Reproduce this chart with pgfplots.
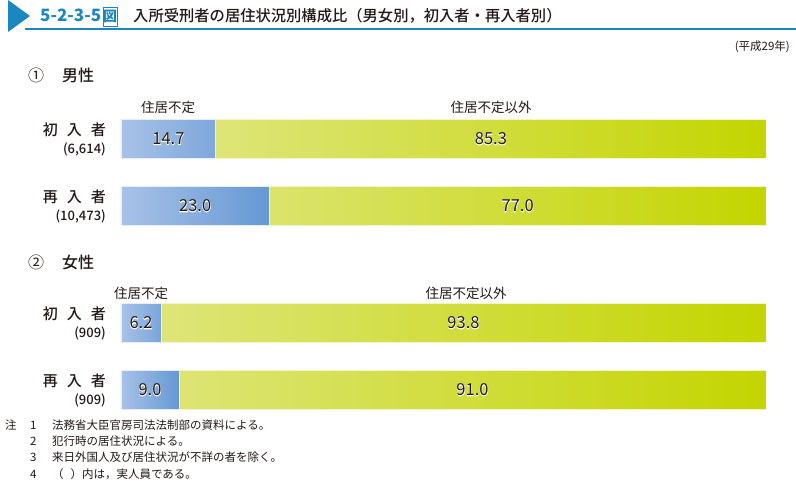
\documentclass[border=0pt]{standalone}
\usepackage{pgfplots}
\pgfplotsset{compat=1.18}
\usepackage{fontspec}
\setmainfont{Noto Sans CJK JP}
\newfontfamily\jpmed{Noto Sans CJK JP Medium}
\newfontfamily\halofont[FakeBold=5]{Noto Sans CJK JP}
\definecolor{tblue}{HTML}{1B87C0}
\definecolor{txt}{HTML}{231815}
\definecolor{bL}{HTML}{A8C2E8}
\definecolor{bR}{HTML}{6598D3}
\definecolor{gL}{HTML}{DEE578}
\definecolor{gR}{HTML}{C3D500}
\newcommand{\vlab}[1]{\makebox[0pt][l]{\halofont\color{white}#1}#1}
\pgfplotsset{
  barstyle/.style={
    scale only axis, width=645pt, height=134pt,
    xmin=0, xmax=100, ymin=-0.5, ymax=1.5,
    enlargelimits=false,
    xbar stacked, bar width=39pt,
    axis line style={draw=none}, tick style={draw=none},
    xtick=\empty, ytick={0,1},
    yticklabel style={align=right, inner sep=0pt, xshift=-15pt, text=txt,
      font=\fontsize{15}{18}\jpmed},
    /pgf/number format/assume math mode=true,
    visualization depends on=rawx \as \rawx,
    nodes near coords={\vlab{\pgfmathprintnumber[fixed,fixed zerofill,precision=1,assume math mode=true]{\rawx}}},
    every node near coord/.append style={anchor=center, text=txt,
      font=\fontsize{16.5}{16.5}\selectfont},
  },
  blueb/.style={draw=white!70!bL, line width=0.8pt, left color=bL, right color=bR},
  greenb/.style={draw=white!60!gL, line width=0.8pt, left color=gL, right color=gR},
}
\begin{document}
\begin{tikzpicture}
\begin{scope}[x=1pt,y=1pt]
\useasboundingbox (0,0) rectangle (796,487);
% title
\fill[tblue] (8,487) -- (30,471) -- (8,455) -- cycle;
\draw[tblue, line width=1.5pt] (25,458) -- (796,458);
\node[anchor=base west, inner sep=0, text=tblue, font=\fontsize{17}{17}\selectfont\bfseries] at (40,465) {5-2-3-5\hspace{1.5pt}\fbox{\kern-2.8pt\fontsize{14}{14}\selectfont 図\kern-2.8pt}};
\node[anchor=base west, inner sep=0, text=txt, font=\fontsize{15.3}{16}\jpmed] at (133,465) {入所受刑者の居住状況別構成比（男女別，初入者・再入者別）};
\node[anchor=east, inner sep=0, text=txt, font=\fontsize{11.5}{12}\selectfont] at (790,440) {(平成29年)};
% section headings
\node[anchor=west, inner sep=0, text=txt, font=\fontsize{16}{16}\selectfont] at (28,412) {①};
\node[anchor=west, inner sep=0, text=txt, font=\fontsize{16}{16}\jpmed] at (62,412) {男性};
\node[anchor=west, inner sep=0, text=txt, font=\fontsize{16}{16}\selectfont] at (28,225) {②};
\node[anchor=west, inner sep=0, text=txt, font=\fontsize{16}{16}\jpmed] at (62,225) {女性};
\node[text=txt, font=\fontsize{13.5}{13.5}\selectfont] at (168,380) {住居不定};
\node[text=txt, font=\fontsize{13.5}{13.5}\selectfont] at (491,380) {住居不定以外};
\node[text=txt, font=\fontsize{13.5}{13.5}\selectfont] at (141,194) {住居不定};
\node[text=txt, font=\fontsize{13.5}{13.5}\selectfont] at (466,194) {住居不定以外};
% notes
\begin{scope}[every node/.style={anchor=west, inner sep=0, text=txt, font=\fontsize{11.5}{12}\selectfont}]
\node at (5,62) {注};
\node at (30,62) {1}; \node at (52,62) {法務省大臣官房司法法制部の資料による。};
\node at (30,46) {2}; \node at (52,46) {犯行時の居住状況による。};
\node at (30,30) {3}; \node at (52,30) {来日外国人及び居住状況が不詳の者を除く。};
\node at (30,13) {4}; \node at (52,13) {（\hspace{0.6em}）内は，実人員である。};
\end{scope}
\end{scope}
% men
\begin{axis}[barstyle, at={(121pt,247.5pt)}, anchor=south west,
  yticklabels={{再\hspace{0.6em}入\hspace{0.6em}者\\{\fontsize{13}{13}\selectfont(10,473)}},
               {初\hspace{0.6em}入\hspace{0.6em}者\\{\fontsize{13}{13}\selectfont(6,614)}}}]
\addplot[blueb] coordinates {(23.0,0) (14.7,1)};
\addplot[greenb] coordinates {(77.0,0) (85.3,1)};
\end{axis}
% women
\begin{axis}[barstyle, at={(121pt,63.5pt)}, anchor=south west,
  yticklabels={{再\hspace{0.6em}入\hspace{0.6em}者\\{\fontsize{13}{13}\selectfont(909)}},
               {初\hspace{0.6em}入\hspace{0.6em}者\\{\fontsize{13}{13}\selectfont(909)}}}]
\addplot[blueb] coordinates {(9.0,0) (6.2,1)};
\addplot[greenb] coordinates {(91.0,0) (93.8,1)};
\end{axis}
\end{tikzpicture}
\end{document}
